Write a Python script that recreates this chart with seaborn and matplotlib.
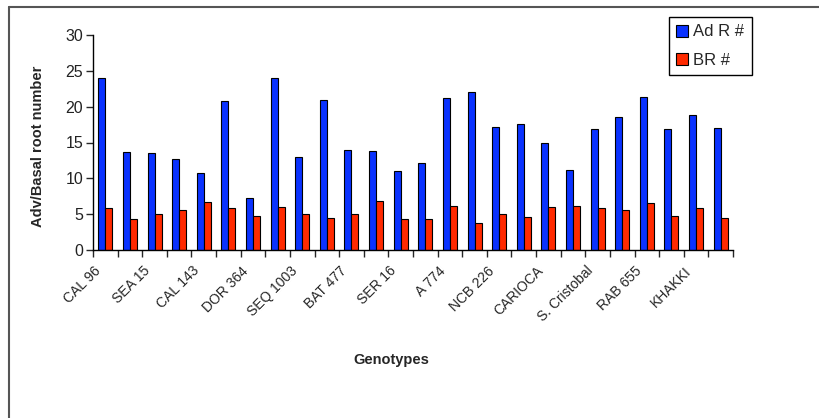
import matplotlib
matplotlib.use("Agg")
import matplotlib.pyplot as plt
import matplotlib.transforms as mtransforms
from matplotlib.lines import Line2D
import pandas as pd
import seaborn as sns

# values (26 genotypes, only every other one is labelled)
adv_roots = [24.0, 13.7, 13.5, 12.7, 10.8, 20.8, 7.3, 24.0, 13.0, 21.0, 14.0, 13.8, 11.0,
             12.1, 21.2, 22.0, 17.2, 17.6, 14.9, 11.1, 16.9, 18.5, 21.4, 16.9, 18.9, 17.0]
basal_roots = [5.8, 4.3, 5.0, 5.6, 6.7, 5.8, 4.8, 6.0, 5.0, 4.4, 5.0, 6.9, 4.3,
               4.3, 6.1, 3.7, 5.0, 4.65, 6.0, 6.1, 5.8, 5.6, 6.6, 4.8, 5.8, 4.5]
shown_labels = ["CAL 96", "SEA 15", "CAL 143", "DOR 364", "SEQ 1003", "BAT 477", "SER 16",
                "A 774", "NCB 226", "CARIOCA", "S. Cristobal", "RAB 655", "KHAKKI"]
series_names = ["Ad R #", "BR #"]

n = len(adv_roots)
df = pd.DataFrame({
    "genotype": list(range(n)) * 2,
    "value": adv_roots + basal_roots,
    "series": [series_names[0]] * n + [series_names[1]] * n,
})

sns.set_style("white")
plt.rcParams["font.family"] = ["Liberation Sans", "DejaVu Sans"]

fig = plt.figure(figsize=(8.2, 4.18), dpi=100)
ax = fig.add_axes([93 / 820, 1 - 250 / 418, 640 / 820, 215 / 418])

sns.barplot(data=df, x="genotype", y="value", hue="series", hue_order=series_names,
            palette=["#0A32FF", "#FF2A00"], width=0.57, gap=0, edgecolor="black",
            linewidth=0.8, saturation=1, ax=ax)

ax.set_xlim(-0.5, n - 0.5)
ax.set_ylim(0, 30)
ax.set_yticks(range(0, 31, 5))
ax.tick_params(axis="y", length=5, width=1, direction="out", labelsize=11.5,
               labelcolor="#222222", pad=2, left=True)

# tick marks between the groups, labels on every other group
ax.set_xticks([i - 0.5 for i in range(n + 1)])
ax.set_xticklabels([])
ax.tick_params(axis="x", which="major", length=5, width=1, direction="out", bottom=True)
ax.set_xticks(list(range(0, n, 2)), minor=True)
ax.set_xticklabels(shown_labels, minor=True, rotation=45, ha="right",
                   rotation_mode="anchor", fontsize=10)
ax.tick_params(axis="x", which="minor", length=0, pad=10)
offset = mtransforms.ScaledTranslation(-12 / 100, 0, fig.dpi_scale_trans)
for lab in ax.get_xticklabels(minor=True):
    lab.set_transform(lab.get_transform() + offset)

# small red marks visible in the original
xt = ax.xaxis.get_major_ticks()
xt[11].tick1line.set_color("red")
xt[12].tick1line.set_color("red")
ax.yaxis.get_major_ticks()[2].tick1line.set_color("red")

for side in ["top", "right"]:
    ax.spines[side].set_visible(False)
for side in ["left", "bottom"]:
    ax.spines[side].set_color("black")
    ax.spines[side].set_linewidth(1)

ax.set_xlabel("")
ax.set_ylabel("Adv/Basal root number", fontsize=10.5, fontweight="bold")
ax.yaxis.set_label_coords(-48 / 640, 0.48)
fig.text(391 / 820, 1 - 360 / 418, "Genotypes", fontsize=10.5, fontweight="bold",
         ha="center", va="center")

handles, labels = ax.get_legend_handles_labels()
ax.legend(handles, labels, loc="upper left", bbox_to_anchor=(669 / 820, 1 - 17 / 418),
          bbox_transform=fig.transFigure, frameon=True, fancybox=False,
          edgecolor="black", framealpha=1, fontsize=12, handlelength=0.7,
          handleheight=0.7, handletextpad=0.3, labelspacing=0.8, borderpad=0.45,
          borderaxespad=0)
ax.get_legend().get_frame().set_linewidth(1)

# outer chart border (only top and left edges visible)
fig.add_artist(Line2D([8.5 / 820, 1], [1 - 6.5 / 418] * 2, color="#555555", lw=1.5,
                      transform=fig.transFigure))
fig.add_artist(Line2D([8.5 / 820] * 2, [0, 1 - 6.5 / 418], color="#555555", lw=1.5,
                      transform=fig.transFigure))

fig.savefig("out.png", dpi=100)
